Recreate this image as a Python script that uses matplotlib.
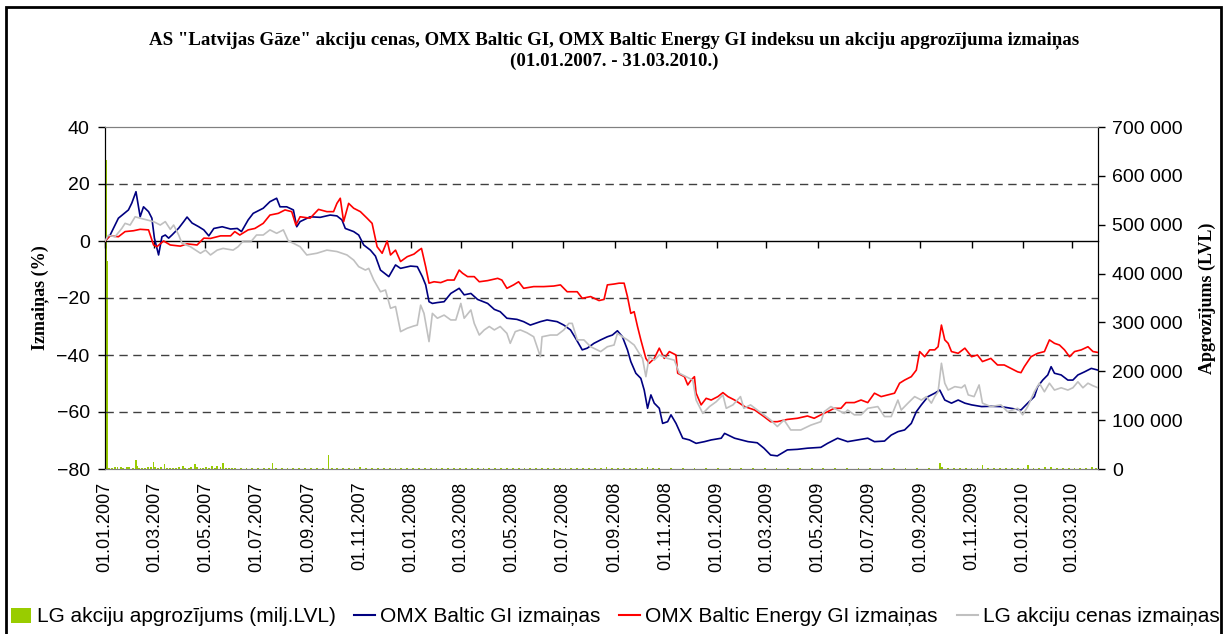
import numpy as np
import pandas as pd
import matplotlib
matplotlib.use("Agg")
import matplotlib.pyplot as plt
from matplotlib.ticker import FuncFormatter
from matplotlib.patches import Rectangle, Patch
from matplotlib.lines import Line2D

plt.rcParams['font.family'] = ['Liberation Sans', 'DejaVu Sans']

# ---------------- data (x = days since 01.01.2007) ----------------
start_date = '2007-01-01'
end_day = 1186

tick_dates = pd.date_range('2007-01-01', '2010-03-01', freq='2MS')
tick_labels = [d.strftime('%d.%m.%Y') for d in tick_dates]

omx_gi_days = [0, 6, 16, 28, 32, 37, 42, 46, 52, 56, 59, 64, 68, 72, 76, 80, 88, 94, 98, 104,
               112, 118, 124, 130, 140, 150, 158, 163, 171, 177, 189, 197, 205, 209, 217, 225,
               229, 233, 245, 257, 269, 277, 283, 287, 297, 303, 309, 317, 323, 329, 339, 347,
               353, 365, 373, 379, 383, 387, 391, 397, 405, 413, 423, 429, 437, 445, 457, 465,
               472, 480, 492, 500, 508, 520, 528, 540, 548, 556, 562, 570, 576, 584, 592, 600,
               606, 612, 618, 624, 628, 634, 640, 644, 648, 652, 656, 662, 666, 672, 676, 682,
               690, 698, 706, 716, 724, 736, 740, 752, 768, 779, 787, 795, 803, 815, 827, 839,
               855, 863, 871, 875, 887, 899, 911, 919, 931, 939, 947, 955, 963, 969, 975, 983,
               991, 997, 1003, 1011, 1019, 1027, 1035, 1047, 1058, 1070, 1082, 1094, 1102, 1110,
               1114, 1120, 1126, 1130, 1134, 1142, 1150, 1156, 1162, 1170, 1178, 1186]
omx_gi_change = [0.0, 2.0, 8.0, 10.9, 13.3, 17.3, 8.5, 12.0, 10.3, 8.0, 1.0, -4.9, 1.5, 2.1, 1.0,
                 2.1, 4.5, 6.8, 8.4, 6.3, 5.0, 3.9, 1.8, 4.4, 5.0, 4.2, 4.4, 3.3, 7.4, 9.7, 11.5,
                 13.8, 15.0, 12.0, 12.0, 10.9, 5.0, 6.8, 8.5, 8.3, 9.1, 8.8, 7.4, 4.4, 3.3, 2.1,
                 -1.4, -3.2, -5.3, -10.2, -12.5, -8.4, -9.6, -8.8, -9.0, -12.5, -15.4, -21.3,
                 -21.9, -21.6, -21.3, -18.4, -16.6, -18.9, -18.4, -20.5, -21.9, -24.0, -24.8,
                 -27.1, -27.5, -28.3, -29.5, -28.3, -27.7, -28.3, -29.5, -31.2, -34.1, -38.2,
                 -37.6, -35.9, -34.7, -33.6, -33.0, -31.5, -33.6, -38.2, -42.3, -46.4, -48.2,
                 -52.3, -58.7, -54.0, -56.9, -58.7, -64.0, -63.4, -61.0, -64.0, -69.2, -69.8,
                 -71.0, -70.4, -69.8, -69.2, -67.5, -69.2, -70.4, -70.8, -72.7, -75.1, -75.4,
                 -73.3, -73.1, -72.7, -72.4, -71.0, -69.8, -69.2, -70.4, -69.8, -69.2, -70.4,
                 -70.2, -68.1, -66.9, -66.3, -64.0, -59.9, -57.5, -54.6, -53.4, -52.3, -55.8,
                 -56.9, -55.8, -56.9, -57.5, -58.1, -58.0, -58.1, -58.7, -59.3, -56.9, -54.6,
                 -51.1, -48.8, -47.0, -44.1, -46.4, -47.0, -48.8, -48.8, -47.0, -45.9, -44.7,
                 -45.3]

energy_days = [0, 6, 16, 24, 34, 42, 52, 58, 62, 70, 78, 90, 98, 110, 118, 126, 138, 150, 155, 161,
               171, 179, 189, 197, 207, 215, 223, 228, 233, 245, 255, 265, 273, 277, 281, 285,
               291, 297, 305, 313, 319, 325, 331, 337, 341, 347, 353, 361, 369, 375, 378, 383,
               387, 393, 401, 409, 417, 423, 427, 433, 441, 447, 457, 469, 474, 480, 488, 494,
               500, 512, 524, 536, 544, 552, 564, 570, 580, 590, 596, 600, 608, 614, 620, 624,
               628, 632, 636, 640, 646, 650, 656, 662, 668, 674, 682, 684, 692, 696, 700, 704,
               706, 712, 718, 724, 732, 738, 744, 752, 764, 776, 787, 795, 803, 815, 827, 839,
               847, 855, 863, 871, 879, 885, 895, 903, 911, 919, 927, 935, 943, 949, 955, 963,
               969, 973, 979, 985, 991, 995, 999, 1003, 1007, 1011, 1019, 1027, 1035, 1042,
               1048, 1058, 1066, 1074, 1082, 1090, 1094, 1098, 1106, 1114, 1122, 1128, 1134,
               1140, 1146, 1152, 1158, 1166, 1174, 1180, 1186]
energy_change = [0.0, 1.8, 1.5, 3.3, 3.6, 4.1, 3.9, -1.4, -2.0, 0.0, -1.4, -1.8, -1.0, -1.4, 1.0,
                 0.9, 1.8, 1.8, 3.3, 2.1, 3.9, 4.4, 6.2, 9.1, 9.7, 10.9, 10.3, 5.6, 8.5, 8.0,
                 11.1, 10.3, 10.3, 13.2, 15.0, 6.8, 13.2, 11.5, 10.3, 8.0, 6.2, -2.0, -4.3, 0.0,
                 -4.9, -3.2, -7.2, -5.5, -4.6, -3.2, -2.6, -9.0, -14.8, -14.3, -14.6, -13.7,
                 -13.7, -10.2, -11.3, -12.5, -12.5, -14.3, -13.9, -13.1, -13.7, -16.6, -15.4,
                 -14.3, -16.6, -16.0, -16.0, -15.8, -15.4, -17.8, -17.8, -20.1, -19.5, -20.9,
                 -20.5, -15.4, -15.1, -14.8, -14.8, -19.5, -25.4, -24.8, -30.0, -34.7, -41.2,
                 -42.9, -41.2, -37.6, -41.2, -38.8, -40.0, -46.4, -47.6, -50.5, -48.8, -47.6,
                 -53.4, -57.5, -55.2, -55.8, -54.6, -53.2, -54.6, -55.8, -58.1, -59.3, -61.6,
                 -63.4, -63.4, -62.6, -62.2, -61.4, -62.2, -61.0, -59.9, -58.7, -58.7, -56.7,
                 -56.7, -55.8, -56.7, -53.4, -54.6, -54.0, -53.4, -49.9, -48.8, -47.6, -45.3,
                 -38.8, -40.6, -38.2, -38.2, -37.1, -29.5, -34.7, -35.9, -38.8, -39.4, -37.6,
                 -40.6, -40.0, -42.3, -41.2, -43.5, -43.5, -44.7, -45.9, -46.2, -44.1, -40.6,
                 -39.4, -38.8, -34.7, -35.9, -36.5, -38.2, -40.6, -38.8, -38.2, -37.1, -38.8,
                 -39.1]

lg_price_days = [0, 4, 12, 20, 24, 30, 36, 42, 50, 58, 66, 72, 78, 82, 88, 92, 102, 114, 120, 126,
                 134, 141, 153, 159, 165, 175, 181, 189, 197, 205, 213, 219, 225, 233, 241, 253,
                 265, 277, 289, 297, 303, 311, 315, 321, 329, 335, 341, 347, 353, 361, 369, 373,
                 377, 381, 387, 391, 397, 405, 413, 419, 425, 429, 437, 441, 447, 453, 459, 465,
                 472, 480, 484, 490, 496, 504, 512, 520, 522, 532, 540, 548, 554, 558, 564, 572,
                 580, 592, 600, 608, 612, 618, 624, 632, 638, 642, 646, 650, 656, 662, 672, 680,
                 686, 694, 702, 706, 714, 722, 730, 738, 742, 750, 759, 763, 771, 779, 787, 795,
                 803, 811, 819, 831, 843, 855, 859, 867, 875, 883, 887, 895, 903, 911, 923, 931,
                 939, 947, 951, 959, 967, 975, 981, 987, 991, 995, 999, 1003, 1007, 1015, 1023,
                 1027, 1031, 1038, 1044, 1048, 1058, 1070, 1078, 1090, 1096, 1102, 1110, 1116,
                 1122, 1128, 1134, 1142, 1150, 1156, 1162, 1168, 1174, 1180, 1186]
lg_price_change = [0.0, 2.0, 1.5, 4.4, 6.2, 5.6, 8.5, 8.0, 7.4, 6.8, 5.6, 6.8, 4.1, 5.6, 2.1, -0.8,
                   -2.0, -4.3, -3.2, -4.9, -3.2, -2.6, -3.2, -2.0, 0.0, 0.0, 2.1, 2.1, 3.9, 2.7,
                   3.9, 0.0, -0.8, -2.0, -4.9, -4.3, -3.2, -3.7, -4.9, -6.7, -9.0, -10.2, -9.6,
                   -13.7, -17.8, -17.2, -23.6, -23.0, -31.8, -30.6, -29.8, -29.5, -22.5, -25.4,
                   -35.3, -25.4, -27.1, -26.0, -27.7, -27.7, -21.9, -27.1, -24.2, -28.9, -33.0,
                   -31.2, -30.0, -31.2, -30.0, -32.4, -35.9, -31.8, -31.2, -32.2, -33.6, -40.6,
                   -33.6, -33.0, -33.0, -31.2, -28.9, -28.9, -34.7, -34.7, -37.1, -38.8, -37.1,
                   -36.5, -32.4, -33.6, -34.7, -36.5, -39.4, -41.2, -47.6, -40.6, -41.8, -40.0,
                   -41.2, -41.8, -46.4, -47.6, -48.8, -55.8, -60.5, -58.1, -56.4, -54.0, -58.7,
                   -57.5, -54.6, -58.7, -57.5, -59.3, -61.0, -62.8, -65.1, -62.8, -66.3, -66.3,
                   -64.6, -63.4, -59.9, -58.1, -59.3, -60.5, -59.3, -61.0, -61.0, -58.7, -58.1,
                   -61.6, -61.6, -55.8, -59.3, -56.9, -54.6, -55.8, -54.6, -56.9, -54.6, -52.9,
                   -42.9, -49.9, -52.3, -51.1, -51.5, -50.5, -54.0, -54.6, -50.5, -56.9, -58.1,
                   -57.5, -59.9, -58.7, -61.0, -58.1, -52.9, -49.9, -52.9, -49.9, -52.3, -51.5,
                   -52.3, -51.5, -49.4, -51.5, -49.9, -50.8, -51.5]

turnover_days = [1, 3, 5, 8, 12, 15, 19, 22, 26, 29, 33, 37, 38, 41, 44, 48, 51, 55, 58, 60, 63,
                 67, 71, 74, 78, 81, 85, 88, 93, 96, 100, 103, 107, 110, 114, 117, 121, 124, 128,
                 131, 134, 138, 141, 145, 148, 152, 155, 162, 169, 176, 183, 190, 196, 200, 204,
                 211, 218, 225, 232, 239, 246, 253, 260, 267, 271, 277, 284, 291, 298, 305, 312,
                 319, 326, 333, 340, 347, 354, 361, 368, 375, 382, 389, 396, 403, 410, 417, 424,
                 431, 438, 445, 452, 459, 466, 473, 480, 487, 494, 501, 508, 515, 522, 529, 536,
                 543, 550, 557, 564, 571, 578, 585, 592, 599, 606, 613, 620, 627, 634, 641, 648,
                 655, 662, 676, 690, 704, 718, 732, 746, 760, 774, 788, 802, 816, 830, 844, 858,
                 872, 886, 900, 914, 928, 942, 956, 970, 984, 997, 1000, 1007, 1014, 1021, 1028,
                 1035, 1042, 1048, 1055, 1062, 1069, 1076, 1083, 1090, 1097, 1102, 1109, 1116,
                 1123, 1130, 1137, 1144, 1151, 1158, 1165, 1172, 1179, 1184]
turnover_lvl = [632000, 425000, 3000, 2500, 3500, 4000, 4000, 3000, 4000, 3500, 3000, 19000, 6000,
                3000, 2500, 3000, 3500, 4000, 14500, 4000, 3000, 3500, 11000, 3000, 2500, 3000,
                3000, 4000, 7000, 2500, 3000, 4000, 11000, 3500, 2500, 3000, 4000, 3000, 7000,
                3000, 7000, 3500, 13000, 3000, 2500, 3000, 2000, 2500, 3000, 2000, 2500, 3000,
                2500, 13000, 2500, 3000, 2000, 2500, 2000, 3000, 2500, 3000, 2500, 29000, 2500,
                2000, 2500, 3000, 2500, 3500, 3000, 2500, 2000, 2500, 2000, 2500, 2000, 1500,
                2000, 1500, 2500, 1500, 2000, 1500, 2500, 2000, 1500, 2000, 2500, 1500, 2000,
                1500, 2500, 2000, 1500, 2500, 2000, 1500, 2000, 1500, 2500, 2000, 2500, 3000,
                2000, 2500, 3000, 2000, 1500, 2500, 3000, 4000, 2500, 3000, 2000, 2500, 3000,
                2500, 3500, 2000, 2500, 2000, 1500, 2000, 1500, 1500, 1500, 2000, 1500, 2500,
                2000, 1500, 2000, 2500, 2000, 1500, 2500, 2000, 1500, 2500, 2000, 3000, 2500,
                3000, 13000, 4000, 3000, 2500, 3000, 2500, 3000, 2500, 8000, 3000, 2000, 3000,
                2500, 2000, 1500, 2500, 8000, 3000, 2500, 4000, 3500, 3000, 2500, 2000, 2500,
                2000, 3000, 4000, 2500]

title_text = ('AS "Latvijas Gāze" akciju cenas, OMX Baltic GI, OMX Baltic Energy GI indeksu '
              'un akciju apgrozījuma izmaiņas\n(01.01.2007. - 31.03.2010.)')
legend_labels = ['LG akciju apgrozījums (milj.LVL)', 'OMX Baltic GI izmaiņas',
                 'OMX Baltic Energy GI izmaiņas', 'LG akciju cenas izmaiņas']

# ---------------- styling ----------------
C_BAR = '#99CC00'
C_GI = '#000080'
C_EN = '#FF0000'
C_LG = '#C0C0C0'
SERIF = ['Liberation Serif', 'DejaVu Serif']

W, H = 1226, 634
fig = plt.figure(figsize=(W / 100, H / 100), dpi=100)
ax = fig.add_axes([105 / W, 1 - 469 / H, 993 / W, 342 / H])
ax2 = ax.twinx()

tick_days = [(d - pd.Timestamp(start_date)).days for d in tick_dates]

# bars on the right axis
ax2.bar(turnover_days, turnover_lvl, width=2.2, color=C_BAR, linewidth=0, zorder=1)
ax2.set_ylim(0, 700000)
ax2.set_yticks(np.arange(0, 700001, 100000))
ax2.yaxis.set_major_formatter(FuncFormatter(lambda v, p: f'{int(v):,}'.replace(',', ' ')))
ax2.tick_params(axis='y', direction='out', length=5, width=1, pad=5, labelsize=14, colors='black')
ax2.set_ylabel('Apgrozījums (LVL)', family=SERIF, fontweight='bold', fontsize=13)
ax2.yaxis.set_label_coords(1.101, 0.5)

ax.set_zorder(ax2.get_zorder() + 1)
ax.patch.set_visible(False)

# lines on the left axis
ax.plot(omx_gi_days, omx_gi_change, color=C_GI, lw=1.2, zorder=3)
ax.plot(energy_days, energy_change, color=C_EN, lw=1.2, zorder=3)
ax.plot(lg_price_days, lg_price_change, color=C_LG, lw=1.2, zorder=3)

ax.set_xlim(0, end_day)
ax.set_ylim(-80, 40)
ax.set_yticks(np.arange(-80, 41, 20))
ax.tick_params(axis='y', direction='out', length=5, width=1, pad=6, labelsize=14)
ax.set_ylabel('Izmaiņas (%)', family=SERIF, fontweight='bold', fontsize=13)
ax.yaxis.set_label_coords(-0.056, 0.5)

ax.set_xticks(tick_days)
ax.set_xticklabels(tick_labels, rotation=90, fontsize=13)
ax.tick_params(axis='x', length=0, pad=9)

# grid lines
for v in [20, -20, -40, -60]:
    ax.axhline(v, color='#404040', lw=1, ls=(0, (6, 4)), zorder=1)

for s in ['left', 'right']:
    ax.spines[s].set_color('black')
    ax2.spines[s].set_color('black')
for s in ['top', 'bottom']:
    ax.spines[s].set_color('#808080')
    ax2.spines[s].set_color('#808080')

# category axis crossing at zero, ticks pointing down
sec = ax.secondary_xaxis(80 / 120)
sec.set_alignment('bottom')
sec.set_xticks(tick_days)
sec.tick_params(axis='x', direction='out', length=5, width=1, labelbottom=False, labeltop=False,
                colors='black')
sec.spines['bottom'].set_color('black')
sec.spines['bottom'].set_linewidth(1)

# title
fig.text(614 / W, 1 - 51 / H, title_text, ha='center', va='center', family=SERIF,
         fontweight='bold', fontsize=13.6, linespacing=1.3)

# legend
handles = [Patch(facecolor=C_BAR, edgecolor='none'),
           Line2D([], [], color=C_GI, lw=1.5),
           Line2D([], [], color=C_EN, lw=1.5),
           Line2D([], [], color=C_LG, lw=1.5)]
fig.legend(handles, legend_labels, loc='center', bbox_to_anchor=(615 / W, 1 - 617 / H), ncol=4,
           frameon=False, fontsize=15, handlelength=1.0, handletextpad=0.25, columnspacing=0.9,
           borderaxespad=0, borderpad=0)

# outer chart border
fig.add_artist(Rectangle((6 / W, -0.05), 1215 / W, 1.05 - 7 / H, transform=fig.transFigure,
                         fill=False, edgecolor='black', lw=2))

fig.savefig('out.png', dpi=100)
